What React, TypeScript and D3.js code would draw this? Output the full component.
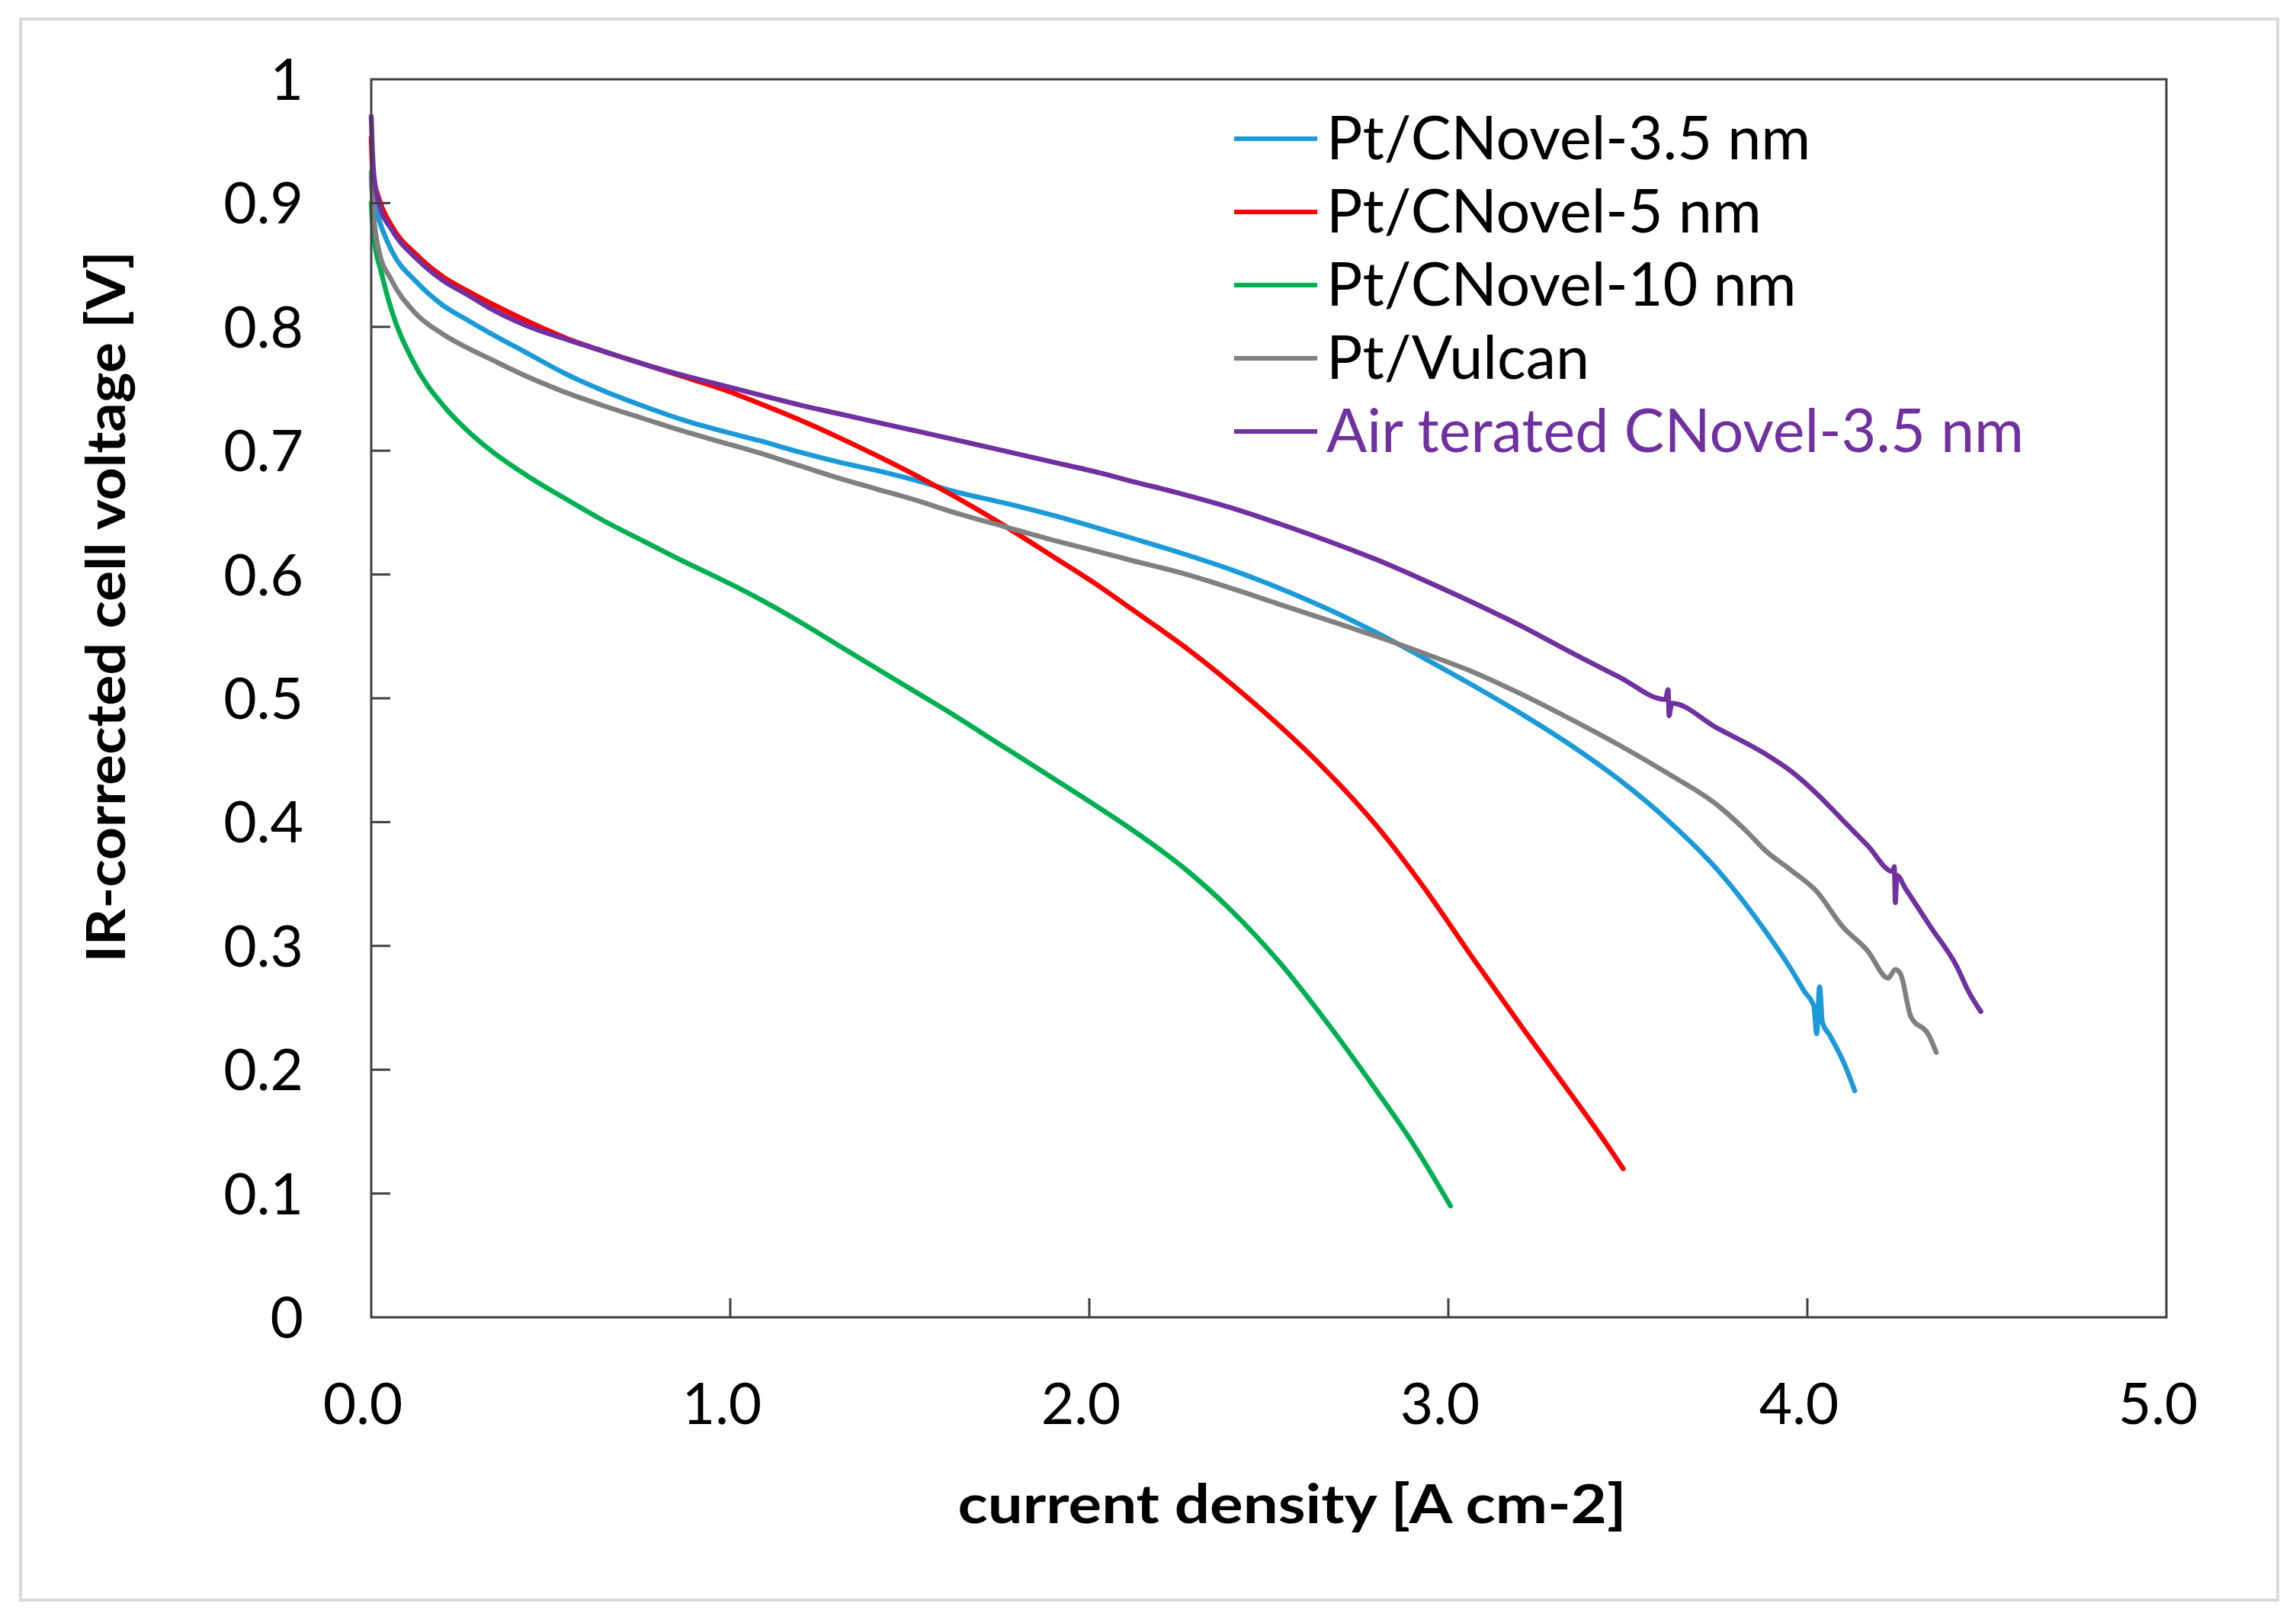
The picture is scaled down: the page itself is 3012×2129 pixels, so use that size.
import React from 'react';
import * as d3 from 'd3';

type Pt = [number, number];

// current density [A cm-2], IR-corrected cell voltage [V]
const pt35: Pt[] = [
  [0.000, 0.920], [0.004, 0.905], [0.021, 0.887], [0.056, 0.862], [0.127, 0.836], [0.197, 0.818],
  [0.271, 0.805], [0.325, 0.796], [0.433, 0.779], [0.542, 0.762], [0.650, 0.748], [0.758, 0.736],
  [0.867, 0.725], [0.975, 0.716], [1.083, 0.708], [1.192, 0.699], [1.300, 0.691], [1.408, 0.684],
  [1.517, 0.676], [1.625, 0.667], [1.760, 0.658], [1.896, 0.648], [2.030, 0.637], [2.123, 0.629],
  [2.259, 0.617], [2.394, 0.604], [2.529, 0.589], [2.665, 0.572], [2.800, 0.553], [2.935, 0.532],
  [3.071, 0.510], [3.206, 0.487], [3.342, 0.462], [3.477, 0.434], [3.613, 0.401], [3.748, 0.362],
  [3.883, 0.312], [3.955, 0.281], [3.992, 0.263], [4.018, 0.251], [4.026, 0.229], [4.034, 0.267],
  [4.042, 0.238], [4.062, 0.228], [4.104, 0.204], [4.132, 0.183],
];

const pt5: Pt[] = [
  [0.000, 0.953], [0.004, 0.925], [0.021, 0.904], [0.056, 0.882], [0.127, 0.858], [0.197, 0.841],
  [0.268, 0.829], [0.410, 0.808], [0.542, 0.791], [0.650, 0.780], [0.758, 0.770], [0.867, 0.760],
  [0.975, 0.750], [1.083, 0.738], [1.192, 0.725], [1.300, 0.711], [1.408, 0.696], [1.517, 0.680],
  [1.625, 0.663], [1.760, 0.640], [1.896, 0.615], [2.030, 0.590], [2.123, 0.571], [2.259, 0.543],
  [2.394, 0.512], [2.529, 0.478], [2.665, 0.440], [2.800, 0.397], [2.935, 0.346], [3.071, 0.289],
  [3.206, 0.234], [3.342, 0.180], [3.443, 0.139], [3.487, 0.120],
];

const pt10: Pt[] = [
  [0.000, 0.900], [0.006, 0.875], [0.028, 0.844], [0.056, 0.814], [0.115, 0.773], [0.205, 0.735],
  [0.265, 0.717], [0.325, 0.702], [0.433, 0.680], [0.542, 0.661], [0.650, 0.643], [0.758, 0.627],
  [0.867, 0.611], [0.975, 0.596], [1.083, 0.580], [1.192, 0.562], [1.300, 0.543], [1.408, 0.524],
  [1.517, 0.505], [1.625, 0.486], [1.760, 0.461], [1.896, 0.436], [2.030, 0.411], [2.123, 0.393],
  [2.259, 0.364], [2.394, 0.329], [2.529, 0.287], [2.665, 0.237], [2.800, 0.183], [2.902, 0.140],
  [3.006, 0.090],
];

const vulcan: Pt[] = [
  [0.000, 0.925], [0.004, 0.900], [0.021, 0.862], [0.056, 0.838], [0.120, 0.812], [0.200, 0.794],
  [0.268, 0.783], [0.325, 0.775], [0.433, 0.760], [0.542, 0.747], [0.650, 0.736], [0.758, 0.726],
  [0.867, 0.716], [0.975, 0.707], [1.083, 0.698], [1.192, 0.688], [1.300, 0.678], [1.408, 0.669],
  [1.517, 0.660], [1.625, 0.650], [1.760, 0.639], [1.896, 0.628], [2.030, 0.618], [2.123, 0.611],
  [2.259, 0.601], [2.394, 0.589], [2.529, 0.576], [2.665, 0.563], [2.800, 0.550], [2.935, 0.536],
  [3.071, 0.521], [3.206, 0.503], [3.342, 0.483], [3.477, 0.462], [3.613, 0.439], [3.748, 0.414],
  [3.829, 0.393], [3.883, 0.377], [3.955, 0.361], [4.026, 0.344], [4.097, 0.316], [4.168, 0.296],
  [4.225, 0.274], [4.245, 0.281], [4.260, 0.277], [4.288, 0.243], [4.338, 0.228], [4.359, 0.214],
];

const airTreated: Pt[] = [
  [0.000, 0.970], [0.003, 0.945], [0.006, 0.927], [0.021, 0.900], [0.056, 0.879], [0.127, 0.855],
  [0.197, 0.838], [0.268, 0.826], [0.325, 0.816], [0.433, 0.801], [0.542, 0.790], [0.650, 0.780],
  [0.758, 0.770], [0.867, 0.761], [0.975, 0.753], [1.083, 0.745], [1.192, 0.737], [1.300, 0.730],
  [1.408, 0.723], [1.517, 0.716], [1.625, 0.709], [1.760, 0.700], [1.896, 0.691], [2.030, 0.682],
  [2.123, 0.675], [2.259, 0.665], [2.394, 0.654], [2.529, 0.641], [2.665, 0.627], [2.800, 0.612],
  [2.935, 0.595], [3.071, 0.577], [3.206, 0.558], [3.342, 0.537], [3.477, 0.517], [3.605, 0.499],
  [3.612, 0.507], [3.615, 0.486], [3.622, 0.496], [3.748, 0.476], [3.883, 0.455], [3.955, 0.441],
  [4.026, 0.423], [4.097, 0.402], [4.168, 0.381], [4.238, 0.360], [4.242, 0.364], [4.245, 0.335],
  [4.249, 0.357], [4.274, 0.346], [4.344, 0.315], [4.415, 0.284], [4.451, 0.262], [4.483, 0.247],
];

const seriesNames = ['Pt/CNovel-3.5 nm', 'Pt/CNovel-5 nm', 'Pt/CNovel-10 nm', 'Pt/Vulcan', 'Air terated CNovel-3.5 nm'];
const seriesData = [pt35, pt5, pt10, vulcan, airTreated];
const seriesColors = ['#1a9ad8', '#ff0000', '#00b050', '#808080', '#7030a0'];
const legendTextColors = ['#000000', '#000000', '#000000', '#000000', '#7030a0'];

const xTicks = [0, 1, 2, 3, 4, 5];
const yTicks = [0, 0.1, 0.2, 0.3, 0.4, 0.5, 0.6, 0.7, 0.8, 0.9, 1];

const W = 3012;
const H = 2129;
const plot = { left: 487, right: 2842, top: 104, bottom: 1728 };
const font = 'Lato, "Open Sans", sans-serif';
const axisColor = '#404040';

const App: React.FC = () => {
  const x = d3.scaleLinear().domain([0, 5]).range([plot.left, plot.right]);
  const y = d3.scaleLinear().domain([0, 1]).range([plot.bottom, plot.top]);

  const line = d3
    .line<Pt>()
    .x((d) => x(d[0]))
    .y((d) => y(d[1]))
    .curve(d3.curveMonotoneX);

  const tickLen = 25;

  return (
    <svg
      width={W}
      height={H}
      viewBox={`0 0 ${W} ${H}`}
      style={{ position: 'absolute', left: 0, top: 0, background: '#fff' }}
    >
      <rect x={0} y={0} width={W} height={H} fill="#ffffff" />
      {/* outer chart frame */}
      <rect x={27} y={25} width={2961} height={2074} fill="none" stroke="#d9d9d9" strokeWidth={4} />

      {/* series */}
      <g fill="none" strokeLinejoin="round" strokeLinecap="round">
        {seriesData.map((d, i) => (
          <path key={seriesNames[i]} d={line(d) || ''} stroke={seriesColors[i]} strokeWidth={6.5} />
        ))}
      </g>

      {/* plot frame */}
      <rect
        x={plot.left}
        y={plot.top}
        width={plot.right - plot.left}
        height={plot.bottom - plot.top}
        fill="none"
        stroke={axisColor}
        strokeWidth={3}
      />

      {/* y axis ticks + labels */}
      <g>
        {yTicks.map((t) => (
          <g key={`y${t}`}>
            {t > 0 && t < 1 && (
              <line x1={plot.left} x2={plot.left + tickLen} y1={y(t)} y2={y(t)} stroke={axisColor} strokeWidth={3} />
            )}
            <text
              x={398}
              y={y(t)}
              dy="0.36em"
              textAnchor="end"
              fontFamily={font}
              fontSize={75}
              fill="#000"
            >
              {String(Math.round(t * 10) / 10)}
            </text>
          </g>
        ))}
      </g>

      {/* x axis ticks + labels */}
      <g>
        {xTicks.map((t) => (
          <g key={`x${t}`}>
            {t > 0 && t < 5 && (
              <line x1={x(t)} x2={x(t)} y1={plot.bottom} y2={plot.bottom - tickLen} stroke={axisColor} strokeWidth={3} />
            )}
            <text x={x(t) - 11} y={1868} textAnchor="middle" fontFamily={font} fontSize={75} fill="#000">
              {t.toFixed(1)}
            </text>
          </g>
        ))}
      </g>

      {/* axis titles */}
      <text
        x={1695}
        y={1998}
        textAnchor="middle"
        fontFamily={font}
        fontSize={71}
        fontWeight="bold"
        fill="#000"
        textLength={877}
        lengthAdjust="spacingAndGlyphs"
      >
        current density [A cm-2]
      </text>
      <text
        transform="translate(164,796) rotate(-90)"
        textAnchor="middle"
        fontFamily={font}
        fontSize={71}
        fontWeight="bold"
        fill="#000"
        textLength={933}
        lengthAdjust="spacingAndGlyphs"
      >
        IR-corrected cell voltage [V]
      </text>

      {/* legend */}
      <g>
        {seriesNames.map((name, i) => {
          const cy = 182 + i * 96;
          return (
            <g key={`leg${i}`}>
              <line x1={1619} x2={1728} y1={cy} y2={cy} stroke={seriesColors[i]} strokeWidth={6} />
              <text x={1740} y={cy + 27} fontFamily={font} fontSize={79} fill={legendTextColors[i]}>
                {name}
              </text>
            </g>
          );
        })}
      </g>
    </svg>
  );
};

export default App;
